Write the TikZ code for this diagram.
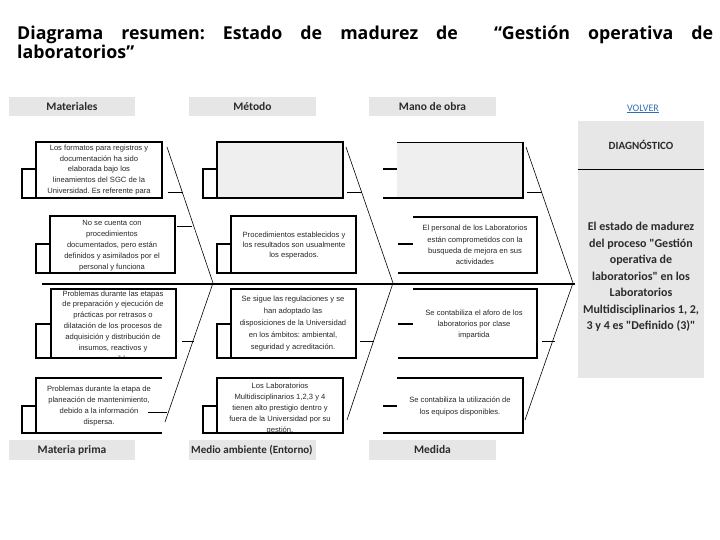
\documentclass[tikz,border=0pt]{standalone}
\usepackage{fontspec}
\setmainfont{Liberation Sans}
\newfontfamily\titlefont{Open Sans}
\newfontfamily\calfont{Carlito}
\frenchspacing
\definecolor{lblgray}{HTML}{E6E6E6}
\definecolor{diagray}{HTML}{E7E7E7}
\definecolor{boxgray}{HTML}{EFEFEF}
\definecolor{lbltext}{HTML}{2B2B2B}
\definecolor{linkblue}{HTML}{2E6DB4}
\tikzset{
  border/.style={line width=1.2pt, black},
  bone/.style={line width=0.6pt, black},
  tick/.style={line width=0.8pt, black},
  lbl/.style={fill=lblgray, draw=none, inner sep=0pt, font=\calfont\bfseries\fontsize{11.5}{13}\selectfont, text=lbltext},
  btxt/.style={inner sep=0pt, align=center, text=black!85},
}
\newcommand{\bt}[1]{\fontsize{7.6}{#1}\selectfont}
\begin{document}
\begin{tikzpicture}[x=1pt,y=-1pt]
\useasboundingbox (0,0) rectangle (720,540);

% Title
\node[anchor=base west, inner sep=0pt, font=\titlefont\bfseries\fontsize{17.8}{19}\selectfont] (title1) at (17,40)
  {\makebox[696pt][s]{Diagrama resumen: Estado de madurez de \ “Gestión operativa de}};
\node[anchor=base west, inner sep=0pt, font=\titlefont\bfseries\fontsize{17.8}{19}\selectfont] (title2) at (17,59) {laboratorios”};

% Category labels
\node[lbl, minimum width=126pt, minimum height=19pt] (mat) at (72,106.5) {Materiales};
\node[lbl, minimum width=127pt, minimum height=19pt] (met) at (252.5,106.5) {Método};
\node[lbl, minimum width=127pt, minimum height=19pt] (mano) at (432.5,106.5) {Mano de obra};
\node[lbl, minimum width=126pt, minimum height=20pt] (matp) at (72,450) {Materia prima};
\fill[lblgray] (189,440) rectangle (316,460);
\node[anchor=west, inner sep=0pt, font=\calfont\bfseries\fontsize{11}{13}\selectfont, text=lbltext] (medio) at (191,450.5) {Medio ambiente (Entorno)};
\node[lbl, minimum width=127pt, minimum height=20pt] (medida) at (432.5,450) {Medida};

% Spine
\coordinate (spineS) at (42,284);
\coordinate (spineE) at (575,284);
\draw[line width=1.8pt] (spineS) -- (spineE);

% Diagonal bones
\draw[bone] (167,147) -- (213,283) -- (165,422);
\draw[bone] (346,147) -- (393,283) -- (347,420);
\draw[bone] (526,147) -- (573,283) -- (525,420);

% ---------- Materiales column ----------
% A1
\draw[border] (36,142) rectangle (162,198);
\draw[border] (36,169) -- (22,169) -- (22,198) -- (36,198);
\draw[tick] (168,192) -- (183,192);
\node[btxt, font=\bt{10.8}] (a1) at (99,170)
  {Los formatos para registros y\\documentación ha sido\\elaborada bajo los\\lineamientos del SGC de la\\Universidad. Es referente para};
% A2
\draw[border] (50,216) rectangle (175,273);
\draw[border] (50,244) -- (36,244) -- (36,273) -- (50,273);
\draw[tick] (177,226) -- (192,226);
\node[btxt, font=\bt{11}] (a2) at (112,245.5)
  {No se cuenta con\\procedimientos\\documentados, pero están\\definidos y asimilados por el\\personal y funciona};
% A3 (clipped text)
\begin{scope}
\clip (51,289) rectangle (176,358);
\node[btxt, font=\bt{10.9}] (a3) at (113,326)
  {Problemas durante las etapas\\de preparación y ejecución de\\prácticas por retrasos o\\dilatación de los procesos de\\adquisición y distribución de\\insumos, reactivos y\\consumibles.};
\end{scope}
\draw[border] (51,289) rectangle (176,358);
\draw[border] (51,324) -- (36,324) -- (36,358) -- (51,358);
\draw[tick] (182,341) -- (194,341);
% A4
\draw[border] (162,378) -- (36,378) -- (36,433);
\draw[border] (36,406) -- (22,406) -- (22,433) -- (162,433);
\draw[tick] (148,412) -- (167,412);
\node[btxt, font=\bt{11.3}] (a4) at (99,406)
  {Problemas durante la etapa de\\planeación de mantenimiento,\\debido a la información\\dispersa.};

% ---------- Método column ----------
% B1
\draw[border, fill=boxgray] (217,142) rectangle (343,198);
\draw[border] (217,169) -- (203,169) -- (203,198) -- (217,198);
\draw[tick] (347,192) -- (362,192);
% B2
\draw[border] (231,216) rectangle (356,273);
\draw[border] (231,244) -- (217,244) -- (217,273) -- (231,273);
\node[btxt, font=\bt{9.6}] (b2) at (294,245.5)
  {Procedimientos establecidos y\\los resultados son usualmente\\los esperados.};
% B3
\draw[border] (231,289) rectangle (356,358);
\draw[border] (231,324) -- (217,324) -- (217,358) -- (231,358);
\draw[tick] (360,341) -- (374,341);
\node[btxt, font=\bt{12}] (b3) at (293,324)
  {Se sigue las regulaciones y se\\han adoptado las\\disposiciones de la Universidad\\en los ámbitos: ambiental,\\seguridad y acreditación.};
% B4
\begin{scope}
\clip (217,378) rectangle (343,433);
\node[btxt, font=\bt{11.1}] (b4) at (280,408.5)
  {Los Laboratorios\\Multidisciplinarios 1,2,3 y 4\\tienen alto prestigio dentro y\\fuera de la Universidad por su\\gestión.};
\end{scope}
\draw[border] (217,378) rectangle (343,433);
\draw[border] (217,406) -- (203,406) -- (203,433) -- (217,433);

% ---------- Mano de obra column ----------
% C1
\fill[boxgray] (397,142) rectangle (523,198);
\draw[line width=0.5pt] (397,142) -- (523,142);
\draw[border] (523,142) -- (523,198) -- (383,198);
\draw[border] (383,169) -- (397,169);
\draw[tick] (527,192) -- (542,192);
% C2
\draw[border] (413,217) -- (537,217) -- (537,273) -- (398,273);
\draw[border] (398,244) -- (413,244);
\node[btxt, font=\bt{11.3}] (c2) at (475,245)
  {El personal de los Laboratorios\\están comprometidos con la\\busqueda de mejora en sus\\actividades};
% C3
\draw[border] (413,289) -- (537,289) -- (537,358) -- (398,358);
\draw[border] (398,324) -- (413,324);
\draw[tick] (542,341) -- (555,341);
\node[btxt, font=\bt{11}] (c3) at (474,325)
  {Se contabiliza el aforo de los\\laboratorios por clase\\impartida};
% C4
\draw[border] (397,378) -- (523,378) -- (523,433) -- (383,433);
\draw[border] (383,406) -- (397,406);
\node[btxt, font=\bt{12}] (c4) at (460,406)
  {Se contabiliza la utilización de\\los equipos disponibles.};

% ---------- Diagnóstico ----------
\node[inner sep=0pt, font=\calfont\fontsize{10}{12}\selectfont, text=linkblue] (volver) at (643,109) {\underline{VOLVER}};
\fill[diagray] (578,121) rectangle (704,378);
\draw[line width=0.8pt] (578,169) -- (704,169);
\node[inner sep=0pt, font=\calfont\bfseries\fontsize{11}{13}\selectfont, text=lbltext] (diag) at (641,145) {DIAGNÓSTICO};
\node[inner sep=0pt, align=center, font=\calfont\bfseries\fontsize{12}{16.5}\selectfont, text=lbltext] (diagtxt) at (641,277)
  {El estado de madurez\\del proceso "Gestión\\operativa de\\laboratorios" en los\\Laboratorios\\Multidisciplinarios 1, 2,\\3 y 4 es "Definido (3)"};
\end{tikzpicture}
\end{document}
